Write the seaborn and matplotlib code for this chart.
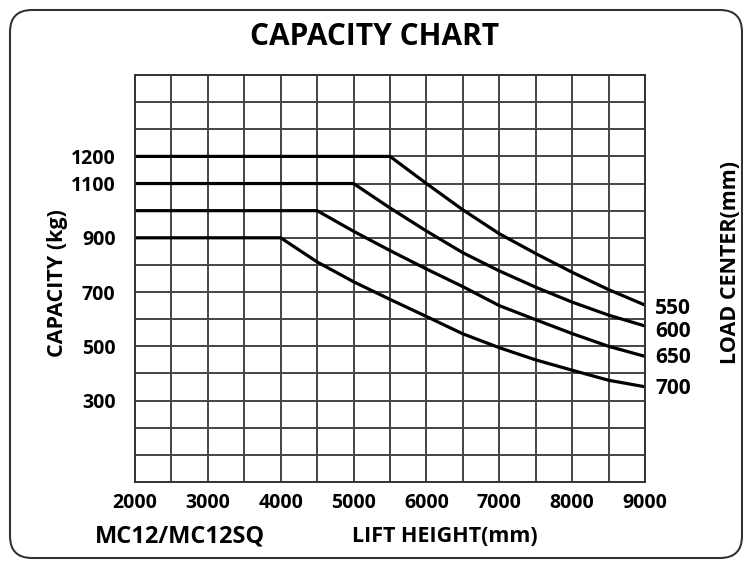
import pandas as pd
import matplotlib.pyplot as plt
import seaborn as sns
from matplotlib.patches import FancyBboxPatch

# capacity curves (lift height in mm -> capacity in kg)
lift_550 = [2000, 5500, 6000, 6500, 7000, 7500, 8000, 8500, 9000]
cap_550 = [1200, 1200, 1100, 1003, 915, 842, 773, 709, 652]

lift_600 = [2000, 5000, 5500, 6000, 6500, 7000, 7500, 8000, 8500, 9000]
cap_600 = [1100, 1100, 1010, 925, 845, 778, 718, 663, 615, 575]

lift_650 = [2000, 4500, 5000, 5500, 6000, 6500, 7000, 7500, 8000, 8500, 9000]
cap_650 = [1000, 1000, 924, 853, 785, 720, 650, 598, 547, 500, 463]

lift_700 = [2000, 4000, 4500, 5000, 5500, 6000, 6500, 7000, 7500, 8000, 8500, 9000]
cap_700 = [900, 900, 811, 738, 673, 610, 546, 495, 450, 412, 375, 351]

load_centers = ['550', '600', '650', '700']
label_y = [639, 554, 458, 344]  # where the right hand labels sit

x_ticks = [2000, 3000, 4000, 5000, 6000, 7000, 8000, 9000]
y_ticks = [300, 500, 700, 900, 1100, 1200]

frames = []
for lc, xs, ys in zip(load_centers, [lift_550, lift_600, lift_650, lift_700],
                      [cap_550, cap_600, cap_650, cap_700]):
    frames.append(pd.DataFrame({'lift': xs, 'cap': ys, 'center': lc}))
df = pd.concat(frames, ignore_index=True)

sns.set_theme(style='white')
plt.rcParams['font.family'] = ['Open Sans', 'DejaVu Sans']
plt.rcParams['font.weight'] = 'bold'
plt.rcParams['text.color'] = 'black'

fig = plt.figure(figsize=(7.43, 5.63), dpi=100)
ax = fig.add_axes([135/743, 81/563, 510/743, 407/563])

# grid every 500 mm / 100 kg
ax.set_xticks(range(2000, 9001, 500), minor=True)
ax.set_yticks(range(0, 1501, 100), minor=True)

sns.lineplot(data=df, x='lift', y='cap', hue='center', units='center', estimator=None,
             palette=['black'] * 4, linewidth=2.3, legend=False, ax=ax, sort=False)

ax.set_xlim(2000, 9000)
ax.set_ylim(0, 1500)
ax.set_xticks(x_ticks)
ax.set_xticklabels([str(v) for v in x_ticks])
ax.set_yticks(y_ticks)
ax.set_yticklabels([str(v) for v in y_ticks])
ax.grid(which='both', color='#444444', linewidth=1.4)
ax.set_axisbelow(True)
ax.tick_params(which='both', length=0, labelsize=14, colors='black')
ax.tick_params(axis='x', pad=8)
ax.tick_params(axis='y', pad=14)
ax.set_xlabel('')
ax.set_ylabel('')
for s in ax.spines.values():
    s.set_color('#333333')
    s.set_linewidth(1.4)

for lc, yv in zip(load_centers, label_y):
    ax.text(1.02, yv, lc, transform=ax.get_yaxis_transform(), fontsize=15,
            fontweight='bold', va='center', ha='left')

fig.text(375/743, 1 - 37/563, 'CAPACITY CHART', fontsize=21.5, fontweight='bold',
         ha='center', va='center')
fig.text(180/743, 1 - 536/563, 'MC12/MC12SQ', fontsize=17, fontweight='bold',
         ha='center', va='center')
fig.text(445/743, 1 - 537/563, 'LIFT HEIGHT(mm)', fontsize=15.5, fontweight='bold',
         ha='center', va='center')
fig.text(57/743, 1 - 283/563, 'CAPACITY (kg)', fontsize=15.5, fontweight='bold',
         ha='center', va='center', rotation=90)
fig.text(731/743, 1 - 262/563, 'LOAD CENTER(mm)', fontsize=15.5, fontweight='bold',
         ha='center', va='center', rotation=90)

# rounded frame round the whole chart, its right side runs at the picture edge
box = FancyBboxPatch((0.10, 0.05), 7.32, 5.48, boxstyle='round,pad=0,rounding_size=0.22',
                     transform=fig.dpi_scale_trans, fill=False, edgecolor='#333333', linewidth=1.5)
fig.patches.append(box)

fig.savefig('out.png', dpi=100)
